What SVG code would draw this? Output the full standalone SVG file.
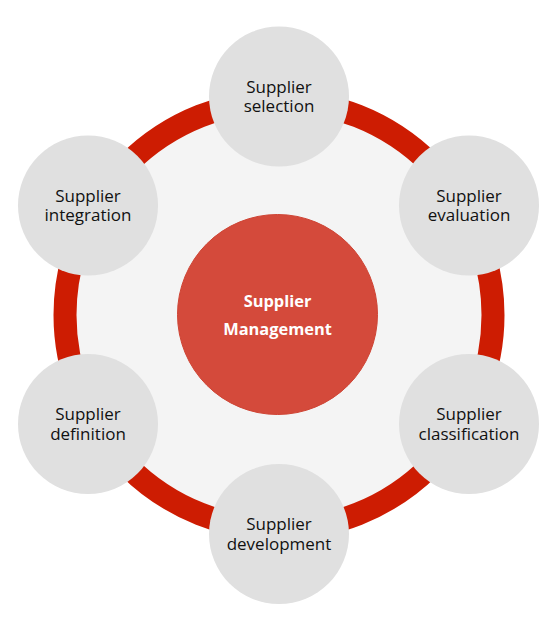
<svg xmlns="http://www.w3.org/2000/svg" width="560" height="627" viewBox="0 0 560 627">
<style>
.bg{fill:#ffffff}
.sat{fill:#e0e0e0}
.lbl{font-family:"Open Sans","Liberation Sans",sans-serif;font-size:17px;fill:#111111;text-anchor:middle}
.core{fill:#d44a3b;stroke:#cf4434;stroke-width:1}
.clbl{font-family:"Open Sans","Liberation Sans",sans-serif;font-size:16.4px;font-weight:bold;fill:#ffffff;text-anchor:middle}
</style>
<rect class="bg" x="0" y="0" width="560" height="627"/>
<g id="connectors">
  <circle cx="279" cy="315" r="214" fill="#f4f4f4" stroke="#cd1c02" stroke-width="23"/>
</g>
<g id="center">
  <circle class="core" cx="277.5" cy="314.5" r="100"/>
  <text class="clbl" x="277.5" y="307">Supplier</text>
  <text class="clbl" x="277.5" y="335">Management</text>
</g>
<g id="selection">
  <circle class="sat" cx="279" cy="96.5" r="70"/>
  <text class="lbl" x="279" y="92.5">Supplier</text>
  <text class="lbl" x="279" y="112">selection</text>
</g>
<g id="evaluation">
  <circle class="sat" cx="469" cy="205.5" r="70"/>
  <text class="lbl" x="469" y="201.5">Supplier</text>
  <text class="lbl" x="469" y="221">evaluation</text>
</g>
<g id="classification">
  <circle class="sat" cx="469" cy="424" r="70"/>
  <text class="lbl" x="469" y="420">Supplier</text>
  <text class="lbl" x="469" y="439.5">classification</text>
</g>
<g id="development">
  <circle class="sat" cx="279" cy="534" r="70"/>
  <text class="lbl" x="279" y="530">Supplier</text>
  <text class="lbl" x="279" y="549.5">development</text>
</g>
<g id="definition">
  <circle class="sat" cx="88" cy="424" r="70"/>
  <text class="lbl" x="88" y="420">Supplier</text>
  <text class="lbl" x="88" y="439.5">definition</text>
</g>
<g id="integration">
  <circle class="sat" cx="88" cy="205.5" r="70"/>
  <text class="lbl" x="88" y="201.5">Supplier</text>
  <text class="lbl" x="88" y="221">integration</text>
</g>
</svg>
